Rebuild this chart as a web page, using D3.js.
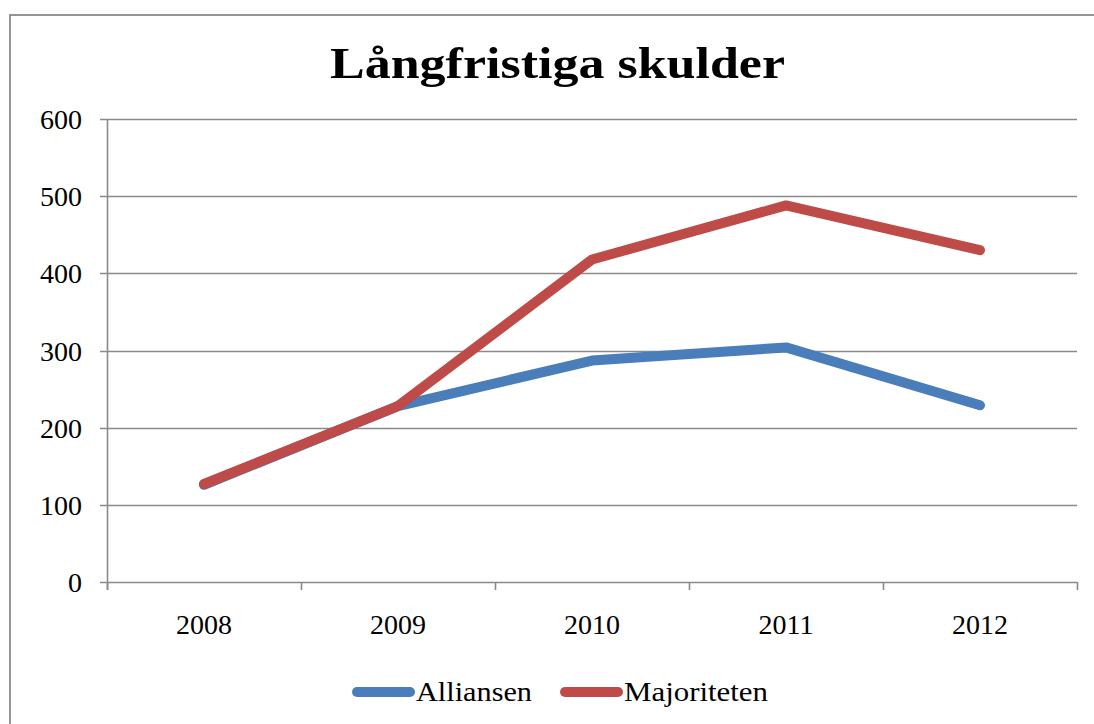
<!DOCTYPE html>
<html>

<head>
    <title>Långfristiga skulder</title>
    <style>
        body {
            margin: 0;
            background: white;
        }

        svg text {
            font-family: "Liberation Serif", "DejaVu Serif", serif;
            fill: #000;
        }
    </style>
    <script src="https://d3js.org/d3.v7.min.js"></script>
</head>

<body>
    <svg width="1094" height="724"></svg>

    <script>

        var years = ["2008", "2009", "2010", "2011", "2012"];
        var alliansen = [126, 228, 287, 304, 229];
        var majoriteten = [127, 228, 418, 488, 430];
        var yTicks = [0, 100, 200, 300, 400, 500, 600];

        var seriesNames = ["Alliansen", "Majoriteten"];
        var seriesColors = ["#4A7EBB", "#BE4B48"];

        var svg = d3.select("svg");

        var margin = { left: 107, right: 1077, top: 119, bottom: 582 };

        // chart frame
        svg.append("rect")
            .attr("x", 10)
            .attr("y", 15)
            .attr("width", 1100)
            .attr("height", 720)
            .attr("fill", "none")
            .attr("stroke", "#8a8a8a")
            .attr("stroke-width", 1.8);

        // Century-like width: stretch the Times glyphs a bit
        svg.append("text")
            .attr("x", 330)
            .attr("y", 78)
            .attr("textLength", 455)
            .attr("lengthAdjust", "spacingAndGlyphs")
            .style("font-size", "45px")
            .style("font-weight", "bold")
            .text("Långfristiga skulder");

        var x = d3.scaleBand().domain(years).range([margin.left, margin.right]);
        var y = d3.scaleLinear().domain([0, 600]).range([margin.bottom, margin.top]);

        // y labels
        var yAxis = svg.append("g")
            .attr("transform", "translate(" + margin.left + ",0)")
            .call(d3.axisLeft(y).tickValues(yTicks).tickSize(0).tickPadding(25));
        yAxis.select(".domain").remove();
        yAxis.selectAll("text").style("font-size", "28px").attr("dy", "0.34em");

        // gridlines
        svg.append("g").selectAll("line")
            .data(yTicks)
            .enter().append("line")
            .attr("x1", margin.left - 7)
            .attr("x2", margin.right)
            .attr("y1", function (d) { return Math.round(y(d)) + 0.5; })
            .attr("y2", function (d) { return Math.round(y(d)) + 0.5; })
            .attr("stroke", "#8a8a8a")
            .attr("stroke-width", 1.6);

        // vertical axis line
        svg.append("line")
            .attr("x1", margin.left + 0.5).attr("x2", margin.left + 0.5)
            .attr("y1", margin.top).attr("y2", margin.bottom + 8)
            .attr("stroke", "#8a8a8a").attr("stroke-width", 1.6);

        // x ticks at category boundaries
        var bounds = years.map(function (d) { return x(d); }).concat([margin.right]);
        svg.append("g").selectAll("line")
            .data(bounds)
            .enter().append("line")
            .attr("x1", function (d) { return Math.round(d) + 0.5; })
            .attr("x2", function (d) { return Math.round(d) + 0.5; })
            .attr("y1", margin.bottom)
            .attr("y2", margin.bottom + 8)
            .attr("stroke", "#8a8a8a")
            .attr("stroke-width", 1.6);

        svg.append("g").selectAll("text")
            .data(years)
            .enter().append("text")
            .attr("x", function (d) { return x(d) + x.bandwidth() / 2; })
            .attr("y", 634)
            .attr("text-anchor", "middle")
            .style("font-size", "28px")
            .text(function (d) { return d; });

        // lines
        var line = d3.line()
            .x(function (d, i) { return x(years[i]) + x.bandwidth() / 2; })
            .y(function (d) { return y(d); });

        [alliansen, majoriteten].forEach(function (vals, i) {
            svg.append("path")
                .datum(vals)
                .attr("d", line)
                .attr("fill", "none")
                .attr("stroke", seriesColors[i])
                .attr("stroke-width", 10)
                .attr("stroke-linecap", "round")
                .attr("stroke-linejoin", "round");
        });

        // legend
        var legendX = [357, 565];
        var legendW = [116, 144];
        seriesNames.forEach(function (name, i) {
            svg.append("line")
                .attr("x1", legendX[i]).attr("x2", legendX[i] + 53)
                .attr("y1", 692).attr("y2", 692)
                .attr("stroke", seriesColors[i])
                .attr("stroke-width", 10)
                .attr("stroke-linecap", "round");
            svg.append("text")
                .attr("x", legendX[i] + 59)
                .attr("y", 701)
                .attr("textLength", legendW[i])
                .attr("lengthAdjust", "spacingAndGlyphs")
                .style("font-size", "28px")
                .text(name);
        });

    </script>

</body>

</html>
